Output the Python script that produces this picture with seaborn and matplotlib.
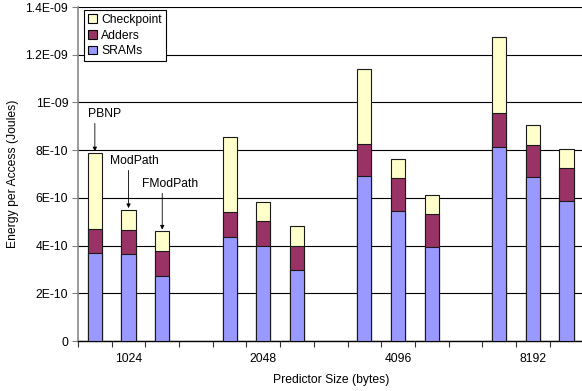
import matplotlib
matplotlib.use("Agg")
import matplotlib.pyplot as plt
from matplotlib.patches import Patch
import seaborn as sns
import pandas as pd

# Predictor sizes and the three predictor designs in each group
sizes = ["1024", "2048", "4096", "8192"]
designs = ["PBNP", "ModPath", "FModPath"]

# Energy components per access (Joules), ordered size-major, design-minor
srams = [3.68e-10, 3.64e-10, 2.73e-10,
         4.36e-10, 3.97e-10, 2.96e-10,
         6.90e-10, 5.47e-10, 3.96e-10,
         8.15e-10, 6.86e-10, 5.86e-10]
adders = [1.03e-10, 1.03e-10, 1.04e-10,
          1.04e-10, 1.04e-10, 1.04e-10,
          1.36e-10, 1.35e-10, 1.35e-10,
          1.42e-10, 1.37e-10, 1.41e-10]
checkpoint = [3.16e-10, 0.82e-10, 0.82e-10,
              3.15e-10, 0.82e-10, 0.82e-10,
              3.13e-10, 0.82e-10, 0.81e-10,
              3.19e-10, 0.82e-10, 0.79e-10]

y_ticks = [0, 2e-10, 4e-10, 6e-10, 8e-10, 1e-9, 1.2e-9, 1.4e-9]
y_tick_labels = ["0", "2E-10", "4E-10", "6E-10", "8E-10", "1E-09", "1.2E-09", "1.4E-09"]

colors = {"SRAMs": "#9999FF", "Adders": "#993366", "Checkpoint": "#FFFFCC"}

rows = []
for si, size in enumerate(sizes):
    for di, design in enumerate(designs):
        k = si * len(designs) + di
        rows.append({
            "bar": f"{size} {design}",
            "SRAMs": srams[k],
            "Adders": adders[k],
            "Checkpoint": checkpoint[k],
        })
df = pd.DataFrame(rows)
df["lvl_sram"] = df["SRAMs"]
df["lvl_adder"] = df["SRAMs"] + df["Adders"]
df["lvl_total"] = df["lvl_adder"] + df["Checkpoint"]

# One empty slot between size groups
order = []
for si, size in enumerate(sizes):
    order += [f"{size} {d}" for d in designs]
    if si < len(sizes) - 1:
        order.append(f"gap{si}")

plt.rcParams["font.family"] = ["Liberation Sans", "DejaVu Sans"]
plt.rcParams["font.size"] = 8.7

fig = plt.figure(figsize=(5.82, 3.91), dpi=100)
ax = fig.add_axes([78 / 582, 50 / 391, 505.4 / 582, 334 / 391])

bar_kw = dict(order=order, width=0.42, saturation=1, edgecolor="#1a1a1a",
              linewidth=0.8, ax=ax, zorder=3)
sns.barplot(data=df, x="bar", y="lvl_total", color=colors["Checkpoint"], **bar_kw)
sns.barplot(data=df, x="bar", y="lvl_adder", color=colors["Adders"], **bar_kw)
sns.barplot(data=df, x="bar", y="lvl_sram", color=colors["SRAMs"], **bar_kw)

ax.set_xlim(-0.5, len(order) - 0.5)
ax.set_ylim(0, 1.4e-9)
ax.set_yticks(y_ticks, y_tick_labels)
ax.yaxis.grid(True, color="black", linewidth=0.8, zorder=0)
ax.set_axisbelow(True)

# Group labels centred on the middle bar; tick marks between slots
centers = [order.index(f"{s} {designs[1]}") for s in sizes]
ax.set_xticks(centers, sizes)
ax.set_xticks([i - 0.5 for i in range(len(order) + 1)], minor=True)
ax.tick_params(axis="x", which="major", length=0, pad=9)
ax.tick_params(axis="x", which="minor", length=4, width=0.8, color="#333333")
ax.tick_params(axis="y", length=4, width=0.8, color="#808080", pad=3)

for side in ("top", "right"):
    ax.spines[side].set_visible(False)
ax.spines["left"].set_color("#808080")
ax.spines["left"].set_linewidth(1.1)
ax.spines["bottom"].set_color("black")
ax.spines["bottom"].set_linewidth(1.0)

ax.set_xlabel("Predictor Size (bytes)", labelpad=6)
ax.set_ylabel("Energy per Access (Joules)", labelpad=5)

# Design callouts over the first group
callouts = [
    # design, text x offset (slots), text height, arrow tail height
    ("PBNP", 0.30, 0.950e-9, 0.912e-9),
    ("ModPath", 1.18, 0.753e-9, 0.715e-9),
    ("FModPath", 2.24, 0.657e-9, 0.619e-9),
]
for di, (name, tx, ty, tail) in enumerate(callouts):
    top = df.loc[di, "lvl_total"]
    ax.annotate("", xy=(di, top + 0.03e-10 + 0.05e-10), xytext=(di, tail),
                arrowprops=dict(arrowstyle="-|>", color="black", lw=0.6,
                                mutation_scale=6, shrinkA=0, shrinkB=0),
                zorder=5)
    ax.text(tx, ty, name, ha="center", va="center", zorder=5)

handles = [Patch(facecolor=colors[n], edgecolor="black", linewidth=0.8, label=n)
           for n in ("Checkpoint", "Adders", "SRAMs")]
leg = ax.legend(handles=handles, loc="upper left", bbox_to_anchor=(0.012, 0.992),
                frameon=True, fancybox=False, handlelength=0.75, handleheight=0.75,
                handletextpad=0.3, labelspacing=0.3, borderpad=0.35,
                borderaxespad=0, framealpha=1)
leg.get_frame().set_edgecolor("black")
leg.get_frame().set_linewidth(0.8)

fig.savefig("out.png", dpi=100)
